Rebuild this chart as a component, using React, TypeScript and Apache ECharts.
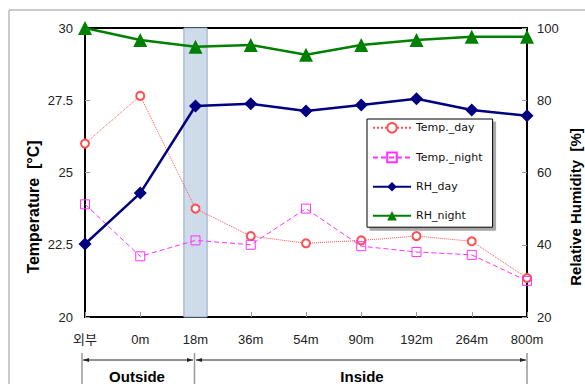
import React, { useEffect, useRef } from "react";
import * as echarts from "echarts";

const categories = ["외부", "0m", "18m", "36m", "54m", "90m", "192m", "264m", "800m"];
const tempDay = [26.0, 27.65, 23.75, 22.8, 22.55, 22.65, 22.8, 22.62, 21.35];
const tempNight = [23.9, 22.1, 22.65, 22.5, 23.75, 22.45, 22.25, 22.15, 21.25];
const rhDay = [40.2, 54.3, 78.4, 79.0, 77.0, 78.7, 80.4, 77.3, 75.7];
const rhNight = [100, 96.7, 94.8, 95.3, 92.6, 95.3, 96.7, 97.6, 97.6];
const tempTicks = { min: 20, max: 30, interval: 2.5 };
const rhTicks = { min: 20, max: 100, interval: 20 };
const bandRange = [1.79, 2.21];

const FONT = "'Liberation Sans', Arial, 'Noto Sans CJK KR', sans-serif";

export default function App() {
  const ref = useRef<HTMLDivElement>(null);
  useEffect(() => {
    if (!ref.current) return;
    const chart = echarts.init(ref.current, null, { renderer: "svg" });
    const axisLabel = { color: "#222", fontSize: 13, fontFamily: FONT };
    chart.setOption({
      animation: false,
      backgroundColor: "#fff",
      grid: {
        left: 85,
        right: 58,
        top: 28,
        bottom: 67,
        show: true,
        borderColor: "#000",
        borderWidth: 2,
      },
      legend: {
        orient: "vertical",
        left: 367,
        top: 119,
        data: ["Temp._day", "Temp._night", "RH_day", "RH_night"],
        itemWidth: 38,
        itemHeight: 12,
        itemGap: 18,
        padding: [3, 10, 6, 5],
        backgroundColor: "#fff",
        borderColor: "#000",
        borderWidth: 1,
        borderRadius: 0,
        shadowColor: "rgba(0,0,0,0.35)",
        shadowOffsetX: 3,
        shadowOffsetY: 3,
        shadowBlur: 0,
        textStyle: { fontFamily: "'DejaVu Sans', Verdana, sans-serif", fontSize: 11, color: "#111" },
      },
      xAxis: [
        {
          type: "category",
          data: categories,
          boundaryGap: false,
          axisLine: { lineStyle: { color: "#000", width: 2 } },
          axisTick: { inside: true, length: 5, lineStyle: { color: "#999" } },
          axisLabel: { ...axisLabel, margin: 16 },
          splitLine: { show: false },
        },
        {
          type: "value",
          min: 0,
          max: 8,
          show: false,
        },
      ],
      yAxis: [
        {
          type: "value",
          ...tempTicks,
          position: "left",
          axisLine: { show: true, lineStyle: { color: "#000", width: 2 } },
          axisTick: { show: true, inside: true, length: 5, lineStyle: { color: "#999" } },
          axisLabel: { ...axisLabel, margin: 12 },
          splitLine: { show: false },
        },
        {
          type: "value",
          ...rhTicks,
          position: "right",
          axisLine: { show: true, lineStyle: { color: "#000", width: 2 } },
          axisTick: { show: true, inside: true, length: 5, lineStyle: { color: "#999" } },
          axisLabel: { ...axisLabel, margin: 10 },
          splitLine: { show: false },
        },
      ],
      series: [
        {
          name: "band",
          type: "line",
          xAxisIndex: 1,
          yAxisIndex: 0,
          data: [],
          silent: true,
          markArea: {
            silent: true,
            itemStyle: { color: "#cfdbea", borderColor: "#8fa8cc", borderWidth: 1 },
            data: [[{ xAxis: bandRange[0] }, { xAxis: bandRange[1] }]],
          },
          z: 0,
        },
        {
          name: "Temp._day",
          type: "line",
          data: tempDay,
          yAxisIndex: 0,
          symbol: "emptyCircle",
          symbolSize: 8,
          lineStyle: { color: "#ff5050", width: 1, type: "dotted" },
          itemStyle: { color: "#ff5050", borderColor: "#ff5050", borderWidth: 1 },
          z: 3,
        },
        {
          name: "Temp._night",
          type: "line",
          data: tempNight,
          yAxisIndex: 0,
          symbol: "rect",
          symbolSize: 9,
          lineStyle: { color: "#ff33ff", width: 1, type: [5, 3] },
          itemStyle: { color: "rgba(255,255,255,0)", borderColor: "#ff33ff", borderWidth: 1 },
          z: 3,
        },
        {
          name: "RH_day",
          type: "line",
          data: rhDay,
          yAxisIndex: 1,
          symbol: "diamond",
          symbolSize: 13,
          lineStyle: { color: "#000080", width: 2.5 },
          itemStyle: { color: "#000080" },
          z: 4,
        },
        {
          name: "RH_night",
          type: "line",
          data: rhNight,
          yAxisIndex: 1,
          symbol: "triangle",
          symbolSize: 14,
          lineStyle: { color: "#008000", width: 2.5 },
          itemStyle: { color: "#008000" },
          z: 4,
        },
      ],
      graphic: [
        {
          type: "rect",
          z: -10,
          shape: { x: 9, y: 10, width: 620, height: 420 },
          style: { fill: "none", stroke: "#999", lineWidth: 1 },
        },
        {
          type: "text",
          x: 33,
          y: 207,
          rotation: Math.PI / 2,
          style: {
            text: "Temperature  [°C]",
            fontFamily: FONT,
            fontWeight: "bold",
            fontSize: 16,
            fill: "#000",
            textAlign: "center",
            textVerticalAlign: "middle",
          },
        },
        {
          type: "text",
          x: 575,
          y: 207,
          rotation: Math.PI / 2,
          style: {
            text: "Relative Humidity  [%]",
            fontFamily: FONT,
            fontWeight: "bold",
            fontSize: 15,
            fill: "#000",
            textAlign: "center",
            textVerticalAlign: "middle",
          },
        },
        { type: "line", shape: { x1: 82, y1: 353, x2: 82, y2: 384 }, style: { stroke: "#999", lineWidth: 1.5 } },
        { type: "line", shape: { x1: 194.5, y1: 353, x2: 194.5, y2: 384 }, style: { stroke: "#999", lineWidth: 1.5 } },
        { type: "line", shape: { x1: 527, y1: 353, x2: 527, y2: 384 }, style: { stroke: "#999", lineWidth: 1.5 } },
        { type: "line", shape: { x1: 83, y1: 360, x2: 193, y2: 360 }, style: { stroke: "#222", lineWidth: 1 } },
        { type: "line", shape: { x1: 196, y1: 360, x2: 526, y2: 360 }, style: { stroke: "#222", lineWidth: 1 } },
        { type: "polygon", shape: { points: [[83, 360], [89, 358], [89, 362]] }, style: { fill: "#222" } },
        { type: "polygon", shape: { points: [[193, 360], [187, 358], [187, 362]] }, style: { fill: "#222" } },
        { type: "polygon", shape: { points: [[196, 360], [202, 358], [202, 362]] }, style: { fill: "#222" } },
        { type: "polygon", shape: { points: [[526, 360], [520, 358], [520, 362]] }, style: { fill: "#222" } },
        {
          type: "text",
          x: 137,
          y: 376,
          style: {
            text: "Outside",
            fontFamily: FONT,
            fontWeight: "bold",
            fontSize: 15,
            fill: "#000",
            textAlign: "center",
            textVerticalAlign: "middle",
          },
        },
        {
          type: "text",
          x: 362,
          y: 376,
          style: {
            text: "Inside",
            fontFamily: FONT,
            fontWeight: "bold",
            fontSize: 15,
            fill: "#000",
            textAlign: "center",
            textVerticalAlign: "middle",
          },
        },
      ],
    });
    return () => chart.dispose();
  }, []);
  return <div ref={ref} style={{ width: 585, height: 384, position: "absolute", left: 0, top: 0 }} />;
}
